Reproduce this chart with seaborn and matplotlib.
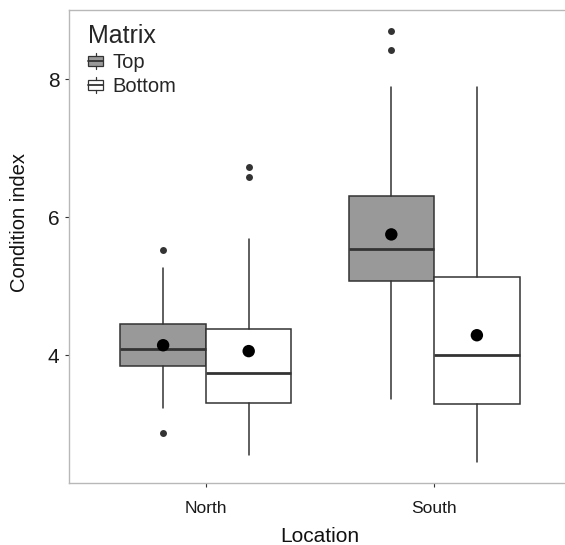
import matplotlib
matplotlib.use("Agg")
import matplotlib.pyplot as plt
import pandas as pd
import seaborn as sns
from matplotlib.legend_handler import HandlerBase
from matplotlib.patches import Rectangle, Patch
from matplotlib.lines import Line2D

locations = ["North", "South"]
matrices = ["Top", "Bottom"]
fills = {"Top": "#999999", "Bottom": "#ffffff"}

# box summaries, order: North-Top, North-Bottom, South-Top, South-Bottom
whisker_low = [3.23, 2.55, 3.37, 2.46]
q1 = [3.84, 3.31, 5.08, 3.30]
median = [4.09, 3.75, 5.54, 4.00]
q3 = [4.45, 4.38, 6.30, 5.14]
whisker_high = [5.26, 5.68, 7.89, 7.89]
outliers = [[2.88, 5.53], [6.58, 6.72], [8.42, 8.69], []]
means = [4.145, 4.06, 5.75, 4.29]

box_w = 0.375
edge = "#333333"

sns.set_style("white")
plt.rcParams["font.family"] = ["Liberation Sans", "DejaVu Sans"]

fig = plt.figure(figsize=(5.65, 5.45), dpi=100)
ax = fig.add_axes([69 / 565, 62 / 545, 502 / 565, 473 / 545])

rows = []
k = 0
for i, loc in enumerate(locations):
    for j, mat in enumerate(matrices):
        rows.append({"Location": loc, "Matrix": mat, "pos": i + (j - 0.5) * box_w,
                     "mean": means[k]})
        k += 1
df = pd.DataFrame(rows)

stats = []
for k in range(len(df)):
    stats.append({"whislo": whisker_low[k], "q1": q1[k], "med": median[k], "q3": q3[k],
                  "whishi": whisker_high[k], "fliers": outliers[k]})

for k, row in df.iterrows():
    ax.bxp([stats[k]], positions=[row["pos"]], widths=box_w, patch_artist=True,
           showcaps=False, manage_ticks=False,
           boxprops=dict(facecolor=fills[row["Matrix"]], edgecolor=edge, linewidth=1.1),
           medianprops=dict(color=edge, linewidth=2.0, solid_capstyle="butt"),
           whiskerprops=dict(color=edge, linewidth=1.1),
           flierprops=dict(marker="o", markerfacecolor=edge, markeredgecolor="none",
                           markersize=5))

sns.scatterplot(data=df, x="pos", y="mean", color="black", s=80, edgecolor="none",
                ax=ax, legend=False, zorder=5)


class BoxKey(HandlerBase):
    def create_artists(self, legend, orig_handle, xd, yd, width, height, fontsize, trans):
        x0, y0 = -xd, -yd
        cx = x0 + width / 2
        rect = Rectangle((x0, y0 + height * 0.2), width, height * 0.6,
                         facecolor=orig_handle.get_facecolor(), edgecolor=edge,
                         linewidth=0.9, transform=trans)
        med = Line2D([x0, x0 + width], [y0 + height * 0.5] * 2, color=edge, lw=1.3,
                     transform=trans)
        w1 = Line2D([cx, cx], [y0, y0 + height * 0.2], color=edge, lw=0.9, transform=trans)
        w2 = Line2D([cx, cx], [y0 + height * 0.8, y0 + height], color=edge, lw=0.9,
                    transform=trans)
        return [rect, med, w1, w2]


handles = [Patch(facecolor=fills[m]) for m in matrices]
leg = ax.legend(handles, matrices, title="Matrix", loc="upper left",
                bbox_to_anchor=(0.01, 1.0), frameon=False, fontsize=14.5,
                title_fontsize=18, handlelength=0.75, handleheight=0.85,
                handletextpad=0.45, labelspacing=0.25, borderaxespad=0.3,
                handler_map={Patch: BoxKey()})
leg._legend_box.align = "left"

ax.set_xlim(-0.6, 1.6)
ax.set_ylim(2.15, 9.0)
ax.set_xticks(range(len(locations)))
ax.set_xticklabels(locations)
ax.set_yticks([4, 6, 8])
ax.tick_params(axis="x", labelsize=12.5, length=3, width=0.8, color=edge, pad=10,
               labelcolor="#1a1a1a", bottom=True)
ax.tick_params(axis="y", labelsize=15, length=3, width=0.8, color=edge, pad=4,
               labelcolor="#1a1a1a", left=True)
ax.set_xlabel("Location", fontsize=15, color="#111111", labelpad=8)
ax.set_ylabel("Condition index", fontsize=14.5, color="#111111")
ax.yaxis.set_label_coords(-0.08, 0.55)
for s in ax.spines.values():
    s.set_color("#b8b8b8")
    s.set_linewidth(1.0)
ax.spines["right"].set_visible(False)

fig.savefig("out.png", dpi=100)
